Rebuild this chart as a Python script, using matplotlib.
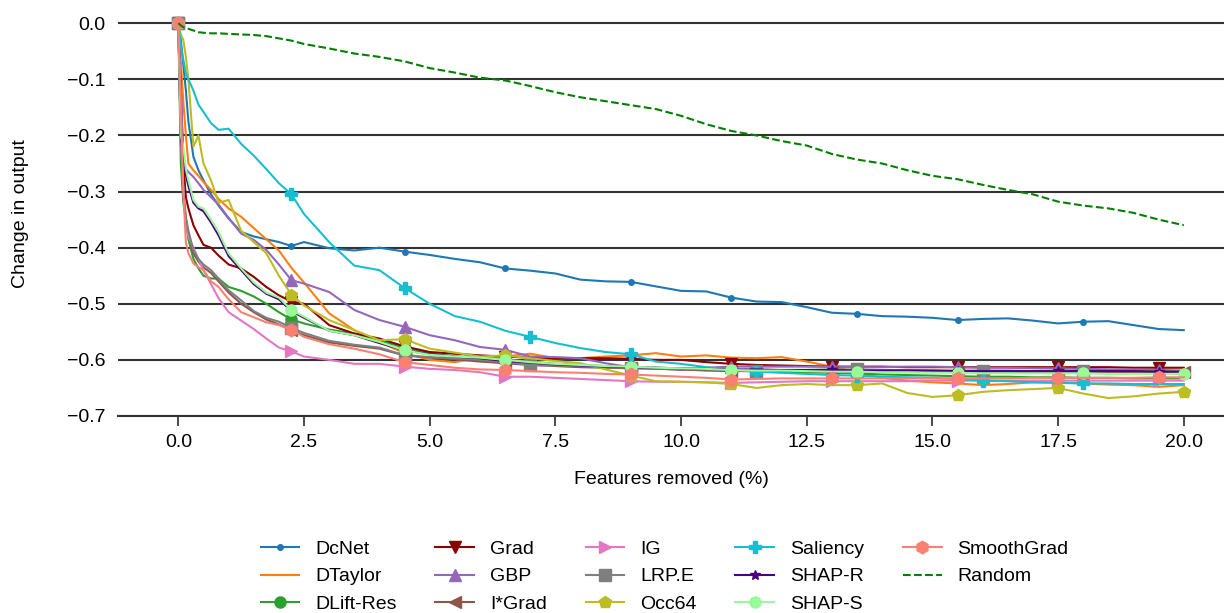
import numpy as np
import matplotlib
matplotlib.use('Agg')
import matplotlib.pyplot as plt

plt.rcParams['font.family'] = ['Liberation Sans', 'DejaVu Sans']
plt.rcParams['font.size'] = 14

# percentage of features removed (x grid shared by all curves)
features_removed = [0, 0.05, 0.1, 0.15, 0.2, 0.3, 0.4, 0.5, 0.65, 0.8, 1.0, 1.25, 1.5, 1.75, 2.0, 2.25,
                    2.5, 3.0, 3.5, 4.0, 4.5, 5.0, 5.5, 6.0,
                    6.5, 7.0, 7.5, 8.0, 8.5, 9.0, 9.5, 10.0,
                    10.5, 11.0, 11.5, 12.0, 12.5, 13.0, 13.5, 14.0,
                    14.5, 15.0, 15.5, 16.0, 16.5, 17.0, 17.5, 18.0,
                    18.5, 19.0, 19.5, 20.0]

dcnet = [0, -0.03, -0.075, -0.12, -0.175, -0.238, -0.262, -0.28, -0.305, -0.325, -0.348, -0.372, -0.38, -0.385, -0.39, -0.397,
         -0.39, -0.401, -0.405, -0.40, -0.407, -0.413, -0.42, -0.426,
         -0.437, -0.441, -0.446, -0.457, -0.46, -0.461, -0.469, -0.477,
         -0.478, -0.489, -0.496, -0.497, -0.506, -0.516, -0.518, -0.522,
         -0.523, -0.525, -0.529, -0.527, -0.526, -0.530, -0.535, -0.532,
         -0.531, -0.538, -0.545, -0.547]
dtaylor = [0, -0.07, -0.14, -0.2, -0.25, -0.262, -0.272, -0.283, -0.297, -0.313, -0.33, -0.345, -0.365, -0.385, -0.405, -0.436,
           -0.462, -0.517, -0.547, -0.568, -0.588, -0.6, -0.604, -0.596,
           -0.594, -0.589, -0.597, -0.597, -0.594, -0.592, -0.588, -0.594,
           -0.592, -0.596, -0.597, -0.595, -0.603, -0.612, -0.622, -0.632,
           -0.637, -0.640, -0.642, -0.645, -0.643, -0.640, -0.640, -0.642,
           -0.644, -0.645, -0.648, -0.645]
dlift_res = [0, -0.25, -0.32, -0.35, -0.385, -0.42, -0.437, -0.45, -0.455, -0.455, -0.47, -0.477, -0.487, -0.50, -0.515, -0.528,
             -0.535, -0.546, -0.553, -0.566, -0.578, -0.588, -0.594, -0.597,
             -0.599, -0.603, -0.607, -0.609, -0.611, -0.613, -0.614, -0.615,
             -0.617, -0.618, -0.619, -0.621, -0.622, -0.623, -0.624, -0.626,
             -0.627, -0.628, -0.629, -0.63, -0.63, -0.631, -0.631, -0.632,
             -0.632, -0.633, -0.633, -0.633]
grad = [0, -0.12, -0.25, -0.31, -0.33, -0.36, -0.378, -0.395, -0.40, -0.414, -0.43, -0.437, -0.452, -0.47, -0.485, -0.496,
        -0.50, -0.538, -0.553, -0.562, -0.576, -0.586, -0.589, -0.592,
        -0.594, -0.596, -0.597, -0.597, -0.597, -0.598, -0.60, -0.60,
        -0.604, -0.607, -0.609, -0.61, -0.611, -0.612, -0.612, -0.612,
        -0.613, -0.613, -0.613, -0.613, -0.613, -0.613, -0.613, -0.613,
        -0.613, -0.614, -0.614, -0.614]
gbp = [0, -0.12, -0.244, -0.26, -0.265, -0.274, -0.285, -0.297, -0.31, -0.323, -0.347, -0.375, -0.386, -0.404, -0.43, -0.458,
       -0.464, -0.479, -0.511, -0.529, -0.541, -0.556, -0.565, -0.577,
       -0.582, -0.594, -0.595, -0.597, -0.606, -0.613, -0.615, -0.618,
       -0.614, -0.612, -0.612, -0.612, -0.612, -0.612, -0.613, -0.613,
       -0.612, -0.612, -0.613, -0.614, -0.614, -0.615, -0.615, -0.616,
       -0.617, -0.617, -0.618, -0.619]
ixgrad = [0, -0.21, -0.31, -0.35, -0.375, -0.41, -0.425, -0.435, -0.445, -0.46, -0.48, -0.50, -0.515, -0.528, -0.537, -0.547,
          -0.556, -0.569, -0.575, -0.58, -0.592, -0.596, -0.599, -0.603,
          -0.606, -0.609, -0.611, -0.613, -0.614, -0.615, -0.616, -0.617,
          -0.619, -0.62, -0.62, -0.62, -0.62, -0.621, -0.621, -0.621,
          -0.621, -0.621, -0.621, -0.621, -0.621, -0.622, -0.622, -0.622,
          -0.622, -0.622, -0.622, -0.622]
ig = [0, -0.2, -0.3, -0.35, -0.38, -0.4, -0.42, -0.44, -0.465, -0.49, -0.515, -0.53, -0.545, -0.562, -0.578, -0.585,
      -0.594, -0.60, -0.607, -0.607, -0.612, -0.616, -0.618, -0.622,
      -0.63, -0.63, -0.632, -0.634, -0.636, -0.638, -0.639, -0.639,
      -0.64, -0.641, -0.64, -0.639, -0.638, -0.638, -0.638, -0.638,
      -0.638, -0.637, -0.637, -0.637, -0.637, -0.637, -0.637, -0.637,
      -0.637, -0.637, -0.637, -0.637]
lrp_e = [0, -0.2, -0.3, -0.345, -0.37, -0.405, -0.42, -0.43, -0.44, -0.455, -0.476, -0.494, -0.513, -0.525, -0.532, -0.543,
         -0.552, -0.566, -0.573, -0.578, -0.592, -0.595, -0.597, -0.60,
         -0.604, -0.609, -0.61, -0.611, -0.613, -0.614, -0.615, -0.616,
         -0.617, -0.618, -0.619, -0.618, -0.618, -0.617, -0.617, -0.618,
         -0.618, -0.619, -0.619, -0.619, -0.619, -0.62, -0.619, -0.619,
         -0.62, -0.62, -0.62, -0.62]
occ64 = [0, -0.02, -0.03, -0.06, -0.1, -0.22, -0.2, -0.25, -0.28, -0.32, -0.315, -0.37, -0.39, -0.41, -0.45, -0.484,
         -0.503, -0.529, -0.547, -0.565, -0.563, -0.58, -0.587, -0.594,
         -0.592, -0.597, -0.602, -0.606, -0.617, -0.628, -0.638, -0.639,
         -0.64, -0.643, -0.65, -0.645, -0.643, -0.645, -0.645, -0.642,
         -0.659, -0.666, -0.663, -0.657, -0.654, -0.652, -0.65, -0.66,
         -0.668, -0.665, -0.66, -0.657]
saliency = [0, -0.04, -0.065, -0.09, -0.10, -0.12, -0.145, -0.158, -0.178, -0.19, -0.188, -0.215, -0.236, -0.26, -0.285, -0.305,
            -0.34, -0.39, -0.432, -0.44, -0.472, -0.50, -0.522, -0.532,
            -0.548, -0.559, -0.57, -0.579, -0.586, -0.59, -0.603, -0.607,
            -0.613, -0.618, -0.621, -0.623, -0.625, -0.627, -0.628, -0.63,
            -0.631, -0.632, -0.634, -0.637, -0.638, -0.640, -0.641, -0.642,
            -0.642, -0.643, -0.643, -0.643]
shap_r = [0, -0.2, -0.24, -0.27, -0.29, -0.32, -0.33, -0.335, -0.355, -0.378, -0.415, -0.44, -0.465, -0.482, -0.492, -0.513,
          -0.525, -0.548, -0.556, -0.57, -0.583, -0.59, -0.594, -0.597,
          -0.602, -0.605, -0.608, -0.61, -0.612, -0.613, -0.614, -0.615,
          -0.616, -0.617, -0.617, -0.618, -0.618, -0.618, -0.619, -0.619,
          -0.619, -0.619, -0.62, -0.62, -0.62, -0.62, -0.62, -0.62,
          -0.62, -0.62, -0.621, -0.621]
shap_s = [0, -0.2, -0.22, -0.26, -0.28, -0.315, -0.327, -0.33, -0.35, -0.372, -0.41, -0.437, -0.462, -0.48, -0.489, -0.511,
          -0.523, -0.548, -0.556, -0.568, -0.583, -0.591, -0.594, -0.596,
          -0.60, -0.604, -0.607, -0.609, -0.611, -0.612, -0.614, -0.615,
          -0.616, -0.618, -0.619, -0.619, -0.620, -0.621, -0.621, -0.622,
          -0.622, -0.623, -0.623, -0.624, -0.624, -0.624, -0.624, -0.624,
          -0.625, -0.625, -0.625, -0.625]
smoothgrad = [0, -0.15, -0.3, -0.39, -0.41, -0.428, -0.435, -0.44, -0.46, -0.47, -0.492, -0.515, -0.524, -0.533, -0.538, -0.546,
              -0.559, -0.572, -0.58, -0.59, -0.604, -0.609, -0.614, -0.617,
              -0.618, -0.620, -0.622, -0.623, -0.625, -0.626, -0.628, -0.63,
              -0.632, -0.635, -0.634, -0.633, -0.633, -0.633, -0.633, -0.633,
              -0.633, -0.633, -0.633, -0.633, -0.633, -0.632, -0.632, -0.632,
              -0.632, -0.632, -0.631, -0.631]
random_removal = [0, -0.004, -0.007, -0.009, -0.01, -0.013, -0.016, -0.017, -0.018, -0.018, -0.019, -0.02, -0.021, -0.023, -0.027, -0.031,
                  -0.037, -0.045, -0.054, -0.060, -0.068, -0.080, -0.088, -0.097,
                  -0.102, -0.112, -0.123, -0.132, -0.139, -0.146, -0.153, -0.165,
                  -0.180, -0.192, -0.200, -0.210, -0.218, -0.233, -0.243, -0.250,
                  -0.262, -0.272, -0.278, -0.288, -0.297, -0.305, -0.318, -0.325,
                  -0.330, -0.338, -0.350, -0.360]

# (label, values, color, marker, marker size, marker spacing in %)
methods = [
    ('DcNet', dcnet, '#1f77b4', '.', 8, 2.25),
    ('DTaylor', dtaylor, '#ff7f0e', None, 0, 2.2),
    ('DLift-Res', dlift_res, '#2ca02c', 'o', 8, 2.25),
    ('Grad', grad, '#8b0000', 'v', 8, 2.19),
    ('GBP', gbp, '#9467bd', '^', 8, 2.19),
    ('I*Grad', ixgrad, '#8c564b', '<', 8, 2.2),
    ('IG', ig, '#e377c2', '>', 8, 2.19),
    ('LRP.E', lrp_e, '#7f7f7f', 's', 8, 2.28),
    ('Occ64', occ64, '#bcbd22', 'p', 9, 2.21),
    ('Saliency', saliency, '#17becf', 'P', 9, 2.27),
    ('SHAP-R', shap_r, '#4b0082', '*', 7, 2.19),
    ('SHAP-S', shap_s, '#98fb98', 'o', 8, 2.22),
    ('SmoothGrad', smoothgrad, '#fa8072', 'h', 9, 2.19),
]

x = np.array(features_removed)

fig = plt.figure(figsize=(12.24, 6.13), dpi=100)
ax = fig.add_axes([118 / 1224, 197 / 613, 1 - 118 / 1224, 404 / 613])

for label, vals, color, marker, ms, spacing in methods:
    every = None
    if marker is not None:
        targets = np.arange(0, 20.01, spacing)
        every = sorted(set(int(np.argmin(np.abs(x - t))) for t in targets))
    ax.plot(x, vals, color=color, lw=1.5, marker=marker, markersize=ms,
            markevery=every, label=label, clip_on=False)

ax.plot(x, random_removal, color='green', lw=1.5, ls='--', label='Random')

ax.set_xlim(-1.2, 20.8)
ax.set_ylim(-0.7, 0.02)
ax.set_yticks(np.arange(-0.7, 0.01, 0.1))
ax.set_xticks(np.arange(0, 20.1, 2.5))
ax.grid(axis='y', color='0.2', lw=1.5)
ax.set_axisbelow(True)
for side in ['top', 'right', 'left']:
    ax.spines[side].set_visible(False)
ax.spines['bottom'].set_color('0.2')
ax.spines['bottom'].set_linewidth(1.5)
ax.tick_params(axis='y', length=0, pad=9)
ax.tick_params(axis='x', length=7, width=1.1, color='0.1', pad=6)

ax.set_xlabel('Features removed (%)', labelpad=14)
ax.set_ylabel('Change in output', labelpad=27)

fig.legend(loc='upper left', bbox_to_anchor=(243 / 1224, 0.147), ncol=5, frameon=False)

fig.savefig('out.png', dpi=100)
